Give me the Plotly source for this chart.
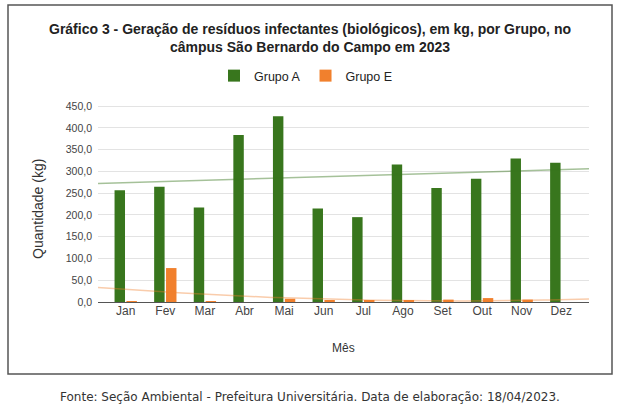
import numpy as np
import plotly.graph_objects as go

# Gráfico 3 — resíduos infectantes por grupo, São Bernardo do Campo, 2023
meses = ["Jan", "Fev", "Mar", "Abr", "Mai", "Jun", "Jul", "Ago", "Set", "Out", "Nov", "Dez"]
grupo_a = [257, 265, 217, 384, 427, 215, 195, 316, 262, 283, 330, 320]
grupo_e = [2, 78, 2, 0, 7.5, 3, 4, 4, 5.5, 9, 5.5, 0]
y_ticks = [0, 50, 100, 150, 200, 250, 300, 350, 400, 450]

GREEN = "#38761d"
ORANGE = "#f1802d"
W, H = 622, 418
L, R, T, B = 98, 33, 104, 116   # plot area in px
PAD = 0.2                        # category padding at both ends


def px(x, y):
    """pixel position -> paper coords"""
    pw, ph = W - L - R, H - T - B
    return (x - L) / pw, (H - B - y) / ph


xs = np.arange(len(meses))
x_lo, x_hi = -0.5 - PAD, len(meses) - 0.5 + PAD
xt = np.linspace(x_lo, x_hi, 100)
trend_a = np.polyval(np.polyfit(xs, grupo_a, 1), xt)
trend_e = np.polyval(np.polyfit(xs, grupo_e, 2), xt)

fig = go.Figure()
fig.add_trace(go.Bar(x=xs, y=grupo_a, name="Grupo A", marker_color=GREEN,
                     marker_line_width=0))
fig.add_trace(go.Bar(x=xs, y=grupo_e, name="Grupo E", marker_color=ORANGE,
                     marker_line_width=0))
fig.add_trace(go.Scatter(x=xt, y=trend_a, mode="lines", showlegend=False,
                         line=dict(color="rgba(56,118,29,0.45)", width=1.5),
                         hoverinfo="skip"))
fig.add_trace(go.Scatter(x=xt, y=trend_e, mode="lines", showlegend=False,
                         line=dict(color="rgba(241,128,45,0.4)", width=1.5),
                         hoverinfo="skip"))

font = "Liberation Sans, Arial, sans-serif"
fig.update_layout(
    width=W, height=H, margin=dict(l=L, r=R, t=T, b=B),
    paper_bgcolor="white", plot_bgcolor="white",
    barmode="group", bargap=0.4, bargroupgap=0.12,
    separators=",.",
    font=dict(family=font, size=11, color="#444"),
    legend=dict(orientation="h", x=px(306, 0)[0], y=px(0, 76)[1],
                xanchor="center", yanchor="middle",
                font=dict(size=12.5, color="#222"), itemwidth=30),
)
fig.update_xaxes(tickvals=list(xs), ticktext=meses, range=[x_lo, x_hi],
                 showgrid=False, ticks="", showline=False,
                 tickfont=dict(size=12, color="#444"))
fig.update_yaxes(tickvals=y_ticks, tickformat=".1f", range=[0, 455],
                 showgrid=True, gridcolor="#e3e3e3", gridwidth=1,
                 zeroline=True, zerolinecolor="#555", zerolinewidth=1.2,
                 ticks="", tickfont=dict(size=10.5, color="#444"), ticklabelstandoff=5)

x0, y0 = px(8, 5)
x1, y1 = px(612, 374)
fig.add_shape(type="rect", xref="paper", yref="paper", x0=x0, y0=y1, x1=x1, y1=y0,
              line=dict(color="#555", width=1.5))


def note(x, y, text, **kw):
    ax, ay = px(x, y)
    fig.add_annotation(xref="paper", yref="paper", x=ax, y=ay, showarrow=False,
                       xanchor="center", yanchor="middle", text=text, **kw)


note(310, 38, "<b>Gráfico 3 - Geração de resíduos infectantes (biológicos), em kg, por Grupo, no"
              "<br>câmpus São Bernardo do Campo em 2023</b>",
     font=dict(family=font, size=14, color="#222"), align="center")
note(343, 348, "Mês", font=dict(family=font, size=12, color="#333"))
note(38, 209, "Quantidade (kg)", textangle=-90, font=dict(family=font, size=14, color="#333"))
note(310, 397, "Fonte: Seção Ambiental - Prefeitura Universitária. Data de elaboração: 18/04/2023.",
     font=dict(family="DejaVu Sans, Verdana, sans-serif", size=12, color="#333"))

fig.write_html("out.html", config={"displayModeBar": False},
               post_script="document.body.style.margin='0';")
